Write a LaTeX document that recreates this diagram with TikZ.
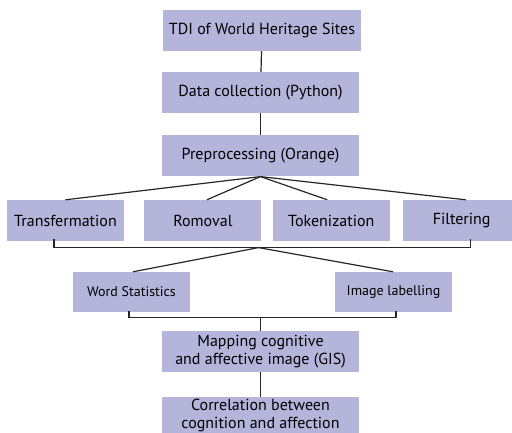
\documentclass[tikz,border=0pt]{standalone}
\usepackage{fontspec}
\setmainfont{PT Sans}
\usetikzlibrary{positioning, calc}
\definecolor{boxfill}{HTML}{B5B5DC}
\tikzset{
every node/.style = {font = \fontsize{16}{18.5}\selectfont},
stage/.style = {rectangle, fill = boxfill, inner sep = 0pt, minimum width = 197pt,
   minimum height = 41pt, align = center},
method/.style = {rectangle, fill = boxfill, inner sep = 0pt, minimum width = 117pt,
   minimum height = 41pt, align = center},
output/.style = {rectangle, fill = boxfill, inner sep = 0pt, minimum width = 117pt,
   minimum height = 40pt, align = center, font = \fontsize{14}{16}\selectfont},
link/.style = {draw, line width = 1.2pt, black!85}
}

\begin{document}
\begin{tikzpicture}[x = 1pt, y = -1pt]
\useasboundingbox (0,0) rectangle (512,433);

%% Main chain
\node [stage, minimum width = 198pt] (tdi) at (262,30.5) {TDI of World Heritage Sites};
\node [stage] (data) at (260.5,92.5) {Data collection (Python)};
\node [stage] (pre) [below = 22pt of data] {Preprocessing (Orange)};

%% Preprocessing steps
\node [method] (trans) at (65.5,220.5) {Transfermation};
\node [method] (rom) [right = 20pt of trans] {Romoval};
\node [method] (tok) [right = 11pt of rom] {Tokenization};
\node [method] (filt) [right = 13pt of tok] {Filtering};

%% Outputs
\node [output] (words) at (131.5,292) {Word Statistics};
\node [output] (label) at (393.5,292) {Image labelling};

\node [stage] (map) at (260.5,351.5) {Mapping cognitive\\and affective image (GIS)};
\node [stage, minimum height = 36pt, font = \fontsize{16}{17.5}\selectfont] (corr)
   [below = 25pt of map] {Correlation between\\cognition and affection};

%% Connectors
\path [link] (tdi) -- (data);
\path [link] (data) -- (pre);
\path [link] (pre.south) -- (trans.north);
\path [link] (pre.south) -- ([xshift = 4pt]rom.north);
\path [link] (pre.south) -- ([xshift = -4pt]tok.north);
\path [link] (pre.south) -- ([xshift = 4pt]filt.north);

%% First bracket
\coordinate (b1) at ($(pre.south)+(-2,71)$);
\path [link] ([xshift = -11.5pt, yshift = 2pt]trans.south) |- (b1)
   -| ([xshift = 8.5pt, yshift = 2pt]filt.south);
\path [link] (b1) -- ([xshift = 1.5pt]words.north);
\path [link] (b1) -- ([xshift = -0.5pt]label.north);

%% Second bracket
\coordinate (b2) at ($(map.north)+(0,-13)$);
\path [link] ([xshift = -2.5pt, yshift = 1pt]words.south) |- (b2)
   -| ([xshift = 2.5pt, yshift = 1pt]label.south);
\path [link] (b2) -- (map);
\path [link] (map) -- (corr);

\end{tikzpicture}
\end{document}
